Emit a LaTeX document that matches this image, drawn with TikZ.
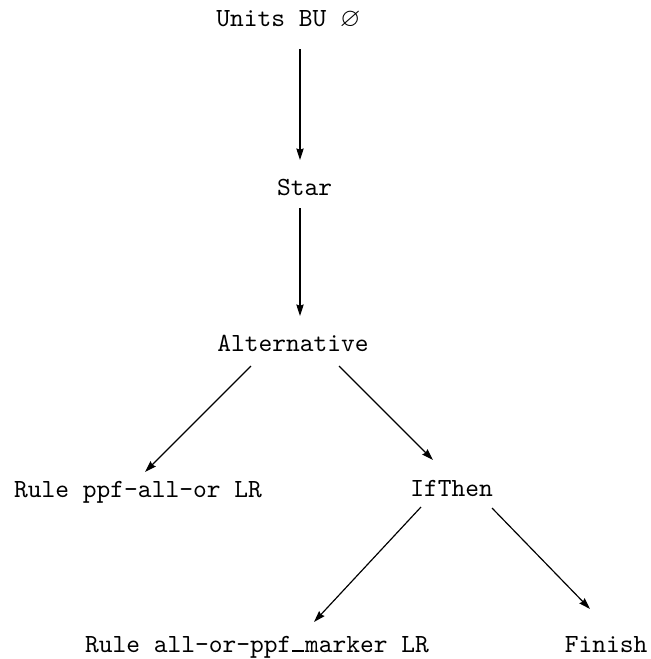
\documentclass[tikz,border=0pt]{standalone}
\usepackage{amssymb}
\usetikzlibrary{arrows.meta,calc}
\newcommand{\ulbar}{\kern0.04em\rule{0.45em}{0.75pt}\kern0.035em}
\begin{document}
\begin{tikzpicture}[x=0.3818pt,y=-0.3818pt,
  lbl/.style={anchor=base,inner sep=0pt,font=\ttfamily},
  arr/.style={line width=0.45pt,-{Stealth[length=4.4pt,width=2.8pt,inset=0.5pt]}}]
\useasboundingbox (0,0) rectangle (650,659);

% nodes (positioned at their text baselines)
\node[lbl] (units)  at (288.5,27)  {Units BU $\varnothing$};
\node[lbl] (star)   at (304.5,195) {Star};
\node[lbl] (alt)    at (293,351)   {Alternative};
\node[lbl] (rulea)  at (138,497)   {Rule ppf-all-or LR};
\node[lbl] (ifthen) at (451.5,496) {IfThen};
\node[lbl] (ruleb)  at (257,652)   {Rule all-or-ppf\ulbar marker LR};
\node[lbl] (finish) at (606,652)   {Finish};

% edges
\draw[arr] ($(units.base)+(11.5,22)$)   -- ($(star.base)+(-4.5,-35)$);
\draw[arr] ($(star.base)+(-4.5,13)$)    -- ($(alt.base)+(7,-35)$);
\draw[arr] ($(alt.base)+(-42,15)$)      -- ($(rulea.base)+(7,-25)$);
\draw[arr] ($(alt.base)+(46,15)$)       -- ($(ifthen.base)+(-18.5,-36)$);
\draw[arr] ($(ifthen.base)+(-30.5,11)$) -- ($(ruleb.base)+(57,-30)$);
\draw[arr] ($(ifthen.base)+(40.5,12)$)  -- ($(finish.base)+(-16,-43)$);
\end{tikzpicture}
\end{document}
